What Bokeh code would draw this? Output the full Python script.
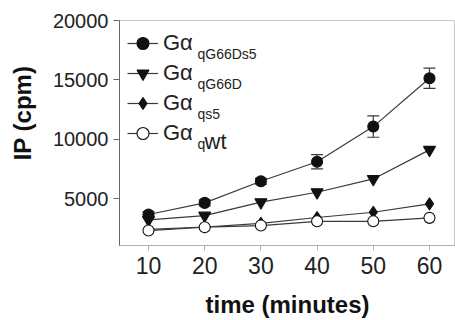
from bokeh.plotting import figure
from bokeh.models import (FixedTicker, Legend, LegendItem, Label, Whisker, ColumnDataSource,
                          TeeHead, Range1d)
from bokeh.embed import file_html
from bokeh.resources import INLINE

# ---- data ----
time_min = [10, 20, 30, 40, 50, 60]
g66ds5 = [3650, 4630, 6450, 8100, 11060, 15130]
g66ds5_err = [250, 250, 250, 600, 900, 850]
g66d = [3200, 3560, 4690, 5530, 6650, 9100]
qs5 = [2400, 2600, 2900, 3400, 3840, 4550]
wt = [2300, 2580, 2720, 3080, 3080, 3370]
x_ticks = [10, 20, 30, 40, 50, 60]
y_ticks = [5000, 10000, 15000, 20000]
subscripts = ["qG66Ds5", "qG66D", "qs5", "q"]

FONT = "Liberation Sans"
FL, FR, FT, FB = 119, 455, 20, 245
X0, X1 = 4.84, 64.63
Y0, Y1 = 1040, 20000

p = figure(frame_width=FR - FL, frame_height=FB - FT, output_backend="svg",
           toolbar_location=None,
           x_range=Range1d(X0, X1), y_range=Range1d(Y0, Y1),
           min_border_left=FL, min_border_right=0, min_border_top=FT,
           min_border_bottom=75)
p.grid.visible = False
p.outline_line_color = "#c8c8c8"
p.background_fill_color = "white"


def to_data(sx, sy):
    return (X0 + (sx - FL) / (FR - FL) * (X1 - X0),
            Y0 + (FB - sy) / (FB - FT) * (Y1 - Y0))


line_col = "#3a3a3a"
mk_col = "#111111"

src = ColumnDataSource(dict(x=time_min, y=g66ds5,
                            lo=[v - e for v, e in zip(g66ds5, g66ds5_err)],
                            hi=[v + e for v, e in zip(g66ds5, g66ds5_err)]))
wh = Whisker(source=src, base="x", lower="lo", upper="hi", line_color=line_col, line_width=1.2,
             lower_head=TeeHead(size=12, line_color=line_col, line_width=1.2),
             upper_head=TeeHead(size=12, line_color=line_col, line_width=1.2))
p.add_layout(wh)

series = [
    (g66ds5, "circle", mk_col, 11),
    (g66d, "inverted_triangle", mk_col, 12),
    (qs5, "diamond", mk_col, 12),
    (wt, "circle", "white", 11),
]
lrs = []
for ys, mk, fill, sz in series:
    lrs.append(p.line(time_min, ys, line_color=line_col, line_width=1.2))
mrs = []
for ys, mk, fill, sz in series:
    mrs.append(p.scatter(time_min, ys, marker=mk, size=sz, fill_color=fill, line_color=mk_col,
                         line_width=1.1))
items = [LegendItem(label="Gα", renderers=[lr, mr]) for lr, mr in zip(lrs, mrs)]

legend = Legend(items=items, location="top_left", padding=0, margin=8, spacing=0,
                glyph_width=31, glyph_height=30, label_height=30, label_standoff=5,
                label_text_font=FONT, label_text_font_size="22px", label_text_color="#222222",
                border_line_color=None, background_fill_alpha=0)
p.add_layout(legend)

# subscripts for legend
centers = [43, 73, 103, 133]
for sub, cy in zip(subscripts, centers):
    x, y = to_data(197, cy + 10)
    p.add_layout(Label(x=x, y=y, text=sub, text_font=FONT, text_font_size="14px",
                       text_color="#222222", text_baseline="alphabetic"))
x, y = to_data(204, centers[3] + 8)
p.add_layout(Label(x=x, y=y, text="wt", text_font=FONT, text_font_size="22px",
                   text_color="#222222", text_baseline="alphabetic"))

# axes
p.xaxis.ticker = FixedTicker(ticks=x_ticks)
p.yaxis.ticker = FixedTicker(ticks=y_ticks)
for ax in (p.xaxis, p.yaxis):
    ax.minor_tick_line_color = None
    ax.major_tick_in = 0
    ax.major_label_text_font = FONT
    ax.major_label_text_color = "#222222"
    ax.axis_label_text_font = FONT
    ax.axis_label_text_font_size = "24px"
    ax.axis_label_text_font_style = "bold"
    ax.axis_label_text_color = "#111111"
p.yaxis.axis_line_color = "#666666"
p.yaxis.major_tick_line_color = "#666666"
p.yaxis.major_tick_out = 6
p.yaxis.major_label_text_font_size = "20px"
p.yaxis.major_label_standoff = 5
p.yaxis.axis_label = "\u00a0" * 6 + "IP (cpm)"
p.yaxis.axis_label_standoff = 14
p.xaxis.axis_line_color = "#b0b0b0"
p.xaxis.major_tick_line_color = "#b0b0b0"
p.xaxis.major_tick_out = 5
p.xaxis.major_label_text_font_size = "23px"
p.xaxis.major_label_standoff = 6
p.xaxis.axis_label = "time (minutes)"
p.xaxis.axis_label_standoff = 14

open("out.html", "w").write(file_html(p, INLINE))
